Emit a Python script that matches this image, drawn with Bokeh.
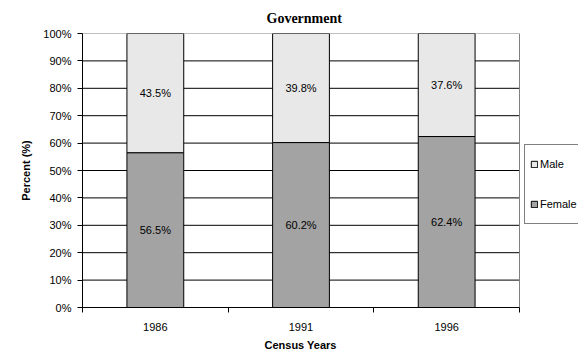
from bokeh.plotting import figure
from bokeh.models import (ColumnDataSource, Range1d, FixedTicker, PrintfTickFormatter,
                          Legend, LegendItem, Title)
from bokeh.core.properties import value
from bokeh.embed import file_html
from bokeh.resources import INLINE

# Census data: share of government employees by sex (%)
years = ["1986", "1991", "1996"]
female = [56.5, 60.2, 62.4]
male = [43.5, 39.8, 37.6]
y_ticks = [0, 10, 20, 30, 40, 50, 60, 70, 80, 90, 100]

FEMALE_COLOR = "#A3A3A3"
MALE_COLOR = "#E8E8E8"
BORDER_COLOR = "#808080"
FONT = "Liberation Sans"

W, H = 578, 354
LEFT, RIGHT_GAP, TOP, BOTTOM = 82, 59, 33, 47
n = len(years)
# the frame runs to the right edge so the legend can sit beside the bars;
# the bar area itself spans x = 0..n
plot_w = W - LEFT - RIGHT_GAP
x_end = n * (W - LEFT) / plot_w

x_pos = [i + 0.5 for i in range(n)]
slot_edges = list(range(n + 1))

src = ColumnDataSource(dict(
    x=x_pos,
    female=female,
    male=male,
    female_mid=[f / 2 for f in female],
    male_mid=[f + m / 2 for f, m in zip(female, male)],
    female_lab=[f"{f:.1f}%" for f in female],
    male_lab=[f"{m:.1f}%" for m in male],
))

p = figure(width=W, height=H,
           x_range=Range1d(0, x_end), y_range=Range1d(0, 100),
           output_backend="svg", toolbar_location=None,
           min_border_left=LEFT, min_border_right=0,
           min_border_top=TOP, min_border_bottom=BOTTOM,
           background_fill_color="white", border_fill_color="white")
p.outline_line_color = None
p.xgrid.visible = False
p.ygrid.visible = False

# title, centred over the bar area
p.title.text = "Government"
p.title.align = "left"
p.title.offset = 184
p.title.text_font = "Liberation Serif"
p.title.text_font_style = "bold"
p.title.text_font_size = "14px"
p.title.text_color = "black"
p.title.standoff = 16

# horizontal gridlines across the bar area
grid_y = y_ticks[1:-1]
p.segment(x0=[0] * len(grid_y), x1=[n] * len(grid_y), y0=grid_y, y1=grid_y,
          line_color="black", line_width=1)
# top and right border of the bar area
p.segment(x0=[0, n], x1=[n, n], y0=[y_ticks[-1], 0], y1=[y_ticks[-1], y_ticks[-1]],
          line_color=BORDER_COLOR, line_width=1)

# stacked bars
r_female, r_male = p.vbar_stack(["female", "male"], x="x", width=0.39, source=src,
                                fill_color=[FEMALE_COLOR, MALE_COLOR],
                                line_color="black", line_width=1)

# value labels inside each segment
for ycol, tcol in (("female_mid", "female_lab"), ("male_mid", "male_lab")):
    p.text(x="x", y=ycol, text=tcol, source=src,
           text_align="center", text_baseline="middle",
           text_font=value(FONT), text_font_size="11px", text_color="black")

# y axis
p.yaxis.ticker = FixedTicker(ticks=y_ticks)
p.yaxis.formatter = PrintfTickFormatter(format="%d%%")
p.yaxis.axis_label = "Percent (%)"
p.yaxis.major_tick_out = 5
p.yaxis.major_tick_in = 0
p.yaxis.minor_tick_line_color = None
p.yaxis.major_label_standoff = 6
p.yaxis.axis_label_standoff = 8

# x axis: labels at slot centres, tick marks at slot edges
p.xaxis.bounds = (0, n)
p.xaxis.ticker = FixedTicker(ticks=x_pos, minor_ticks=slot_edges)
p.xaxis.major_label_overrides = {xv: yr for xv, yr in zip(x_pos, years)}
p.xaxis.major_tick_line_color = None
p.xaxis.minor_tick_line_color = "black"
p.xaxis.minor_tick_out = 5
p.xaxis.minor_tick_in = 0
p.xaxis.major_label_standoff = 9

for ax in (p.xaxis, p.yaxis):
    ax.axis_line_color = "black"
    ax.axis_line_width = 1
    ax.major_label_text_font = FONT
    ax.major_label_text_font_size = "11px"
    ax.major_label_text_color = "black"
    ax.axis_label_text_font = FONT
    ax.axis_label_text_font_size = "11px"
    ax.axis_label_text_font_style = "bold"
    ax.axis_label_text_color = "black"

# x-axis caption, centred under the bar area
p.add_layout(Title(text="Census Years", align="left", offset=182,
                   text_font=FONT, text_font_size="11px", text_font_style="bold",
                   text_color="black", standoff=7), "below")

# legend just right of the bar area
legend = Legend(
    items=[LegendItem(label="Male", renderers=[r_male]),
           LegendItem(label="Female", renderers=[r_female])],
    location=(plot_w + 5, 83),
    border_line_color="black", border_line_width=1,
    background_fill_color="white", background_fill_alpha=1.0,
    label_text_font=FONT, label_text_font_size="11px", label_text_color="black",
    glyph_width=8, glyph_height=8, label_standoff=2,
    label_height=28, spacing=12, padding=5, margin=0,
)
p.add_layout(legend)

open("out.html", "w").write(file_html(p, INLINE))
